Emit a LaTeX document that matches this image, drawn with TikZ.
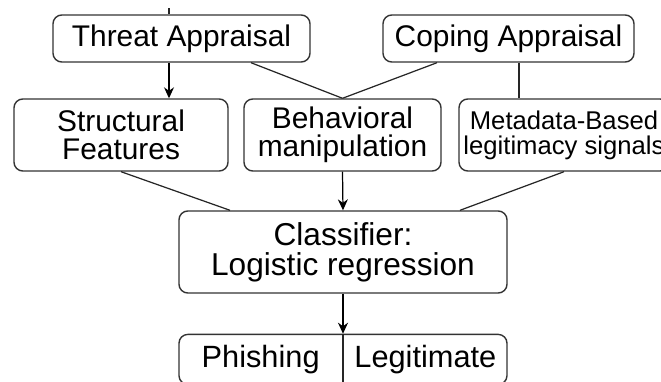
\documentclass[tikz,border=0pt]{standalone}
\usepackage{fontspec}
\setmainfont{Liberation Sans}
\usetikzlibrary{positioning, arrows.meta, calc}

\begin{document}
\begin{tikzpicture}[
    >={Stealth[length=2.2mm, width=2mm]},
    box/.style={rectangle, draw=black!80, line width=0.8pt, rounded corners=5pt,
                inner sep=0pt, align=center, font=\fontsize{17}{16}\selectfont},
    arrow/.style={->, line width=0.7pt, black},
    link/.style={line width=0.7pt, black!85},
    lbl/.style={font=\fontsize{17.5}{18}\selectfont, inner sep=0pt},
]
\useasboundingbox (0,0) rectangle (13.22,-7.62);

% === appraisals ===
\node[box, minimum width=5.14cm, minimum height=0.94cm] (threat) at (3.63,-0.77) {Threat Appraisal};
\node[box, minimum width=5.02cm, minimum height=0.94cm] (coping) at (10.17,-0.77) {Coping Appraisal};
\coordinate (ttop) at (3.38,-0.16);

% === feature groups ===
\node[box, minimum width=4.28cm, minimum height=1.44cm] (struct) at (2.42,-2.70) {Structural\\Features};
\node[box, minimum width=3.94cm, minimum height=1.44cm] (behav) at (6.85,-2.70) {Behavioral\\manipulation};
\node[box, minimum width=4.20cm, minimum height=1.44cm,
      font=\fontsize{14.6}{14.2}\selectfont] (meta) at (11.28,-2.70) {Metadata-Based\\legitimacy signals};

% === classifier and output ===
\node[box, minimum width=6.56cm, minimum height=1.64cm,
      font=\fontsize{18}{17}\selectfont] (clf) at (6.86,-5.04) {Classifier:\\ Logistic regression};
\node[box, minimum width=6.56cm, minimum height=1.0cm, below=0.8cm of clf] (out) {};
\node[lbl] (phish) at ($(out.west)!0.5!(out.center)$) {Phishing};
\node[lbl] (legit) at ($(out.center)!0.5!(out.east)$) {Legitimate};

% connectors
\draw[link] (ttop) -- (ttop |- threat.north);
\draw[arrow] ([xshift=-0.25cm]threat.south) -- ([xshift=-0.25cm]threat.south |- struct.north);
\draw[link] ([xshift=1.39cm]threat.south) -- (behav.north);
\draw[link] ([xshift=-1.43cm]coping.south) -- (behav.north);
\draw[link] ([xshift=0.21cm]coping.south) -- ([xshift=0.21cm]coping.south |- meta.north);
\draw[link] (struct.south) -- ([xshift=-2.26cm]clf.north);
\draw[arrow] (behav.south) -- (clf.north);
\draw[link] (meta.south) -- ([xshift=2.34cm]clf.north);
\draw[arrow] (clf.south) -- (out.north);
\draw[link] (out.north) -- (out.south);

\end{tikzpicture}
\end{document}
